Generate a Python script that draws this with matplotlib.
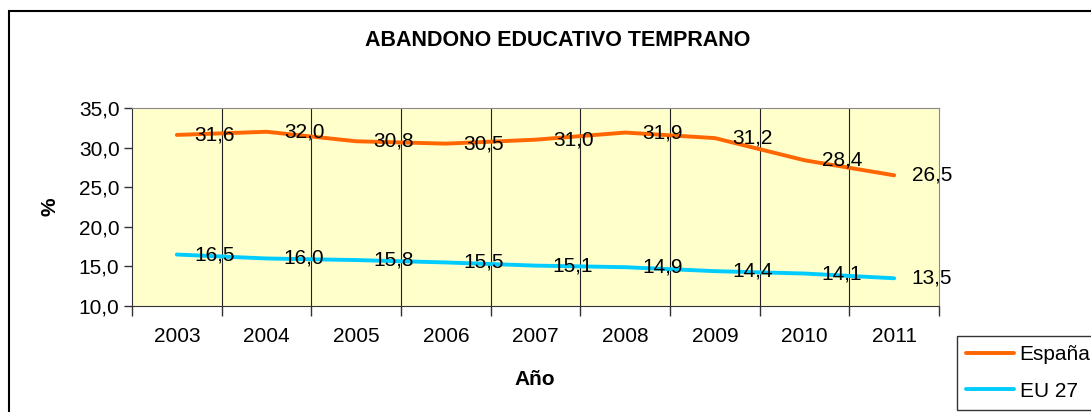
import matplotlib
matplotlib.use("Agg")
import matplotlib.pyplot as plt
from matplotlib.patches import Rectangle
import numpy as np

years = ["2003", "2004", "2005", "2006", "2007", "2008", "2009", "2010", "2011"]
espana = [31.6, 32.0, 30.8, 30.5, 31.0, 31.9, 31.2, 28.4, 26.5]
eu27 = [16.5, 16.0, 15.8, 15.5, 15.1, 14.9, 14.4, 14.1, 13.5]
yticks = [10.0, 15.0, 20.0, 25.0, 30.0, 35.0]

plt.rcParams['font.family'] = ['Liberation Sans', 'DejaVu Sans']

W, H = 1091, 412
FS = 15
fig = plt.figure(figsize=(W / 100, H / 100), dpi=100)

# figure border
fig.patches.append(Rectangle((9 / W, -0.05), 1.2, 1 - 11 / H + 0.05, transform=fig.transFigure,
                             fill=False, edgecolor='black', linewidth=1.5))

ax = fig.add_axes([132 / W, 1 - 306 / H, (939 - 132) / W, (306 - 108) / H])
ax.set_facecolor('#FFFFCC')
x = np.arange(len(years))
ax.plot(x, espana, color='#FF6600', linewidth=2.8, label='España', solid_capstyle='round')
ax.plot(x, eu27, color='#00CCFF', linewidth=2.8, label='EU 27', solid_capstyle='round')

for xi, v in zip(x, espana):
    ax.annotate(f"{v:.1f}".replace('.', ','), (xi, v), xytext=(12.5, 0), textcoords='offset points',
                ha='left', va='center', fontsize=FS)
for xi, v in zip(x, eu27):
    ax.annotate(f"{v:.1f}".replace('.', ','), (xi, v), xytext=(12.5, 0), textcoords='offset points',
                ha='left', va='center', fontsize=FS)

ax.set_xlim(-0.5, len(years) - 0.5)
ax.set_ylim(10, 35)
ax.set_yticks(yticks)
ax.set_yticklabels([f"{t:.1f}".replace('.', ',') for t in yticks], fontsize=FS)
ax.set_xticks(x)
ax.set_xticklabels(years, fontsize=FS)
ax.tick_params(axis='x', length=0, pad=15)
ax.set_xticks(np.arange(-0.5, len(years)), minor=True)
ax.tick_params(axis='x', which='minor', length=7, width=1, color='#333333', direction='out')
ax.tick_params(axis='y', length=6, width=1, color='#333333', direction='out', pad=3)
for b in np.arange(0.5, len(years) - 0.5):
    ax.axvline(b, color='#222222', linewidth=0.8, zorder=0.5)
for s in ['top', 'right']:
    ax.spines[s].set_color('#888888')
for s in ['left', 'bottom']:
    ax.spines[s].set_color('#333333')

ax.set_xlabel('Año', fontsize=FS, fontweight='bold')
ax.xaxis.set_label_coords((535 - 132) / 807, -(370 - 306) / 198)
ax.set_ylabel('%', fontsize=FS, fontweight='bold')
ax.yaxis.set_label_coords(-(132 - 59) / 807, 0.5)

fig.text(558 / W, 1 - 41 / H, 'ABANDONO EDUCATIVO TEMPRANO', ha='center', va='center',
         fontsize=15.5, fontweight='bold')

leg = fig.legend(loc='lower left', bbox_to_anchor=(957 / W, 2 / H), fontsize=FS,
                 frameon=True, fancybox=False, edgecolor='black', handlelength=2.3,
                 borderpad=0.45, labelspacing=0.85, handletextpad=0.25, borderaxespad=0)
leg.get_frame().set_linewidth(1.0)

fig.savefig('out.png', dpi=100)
